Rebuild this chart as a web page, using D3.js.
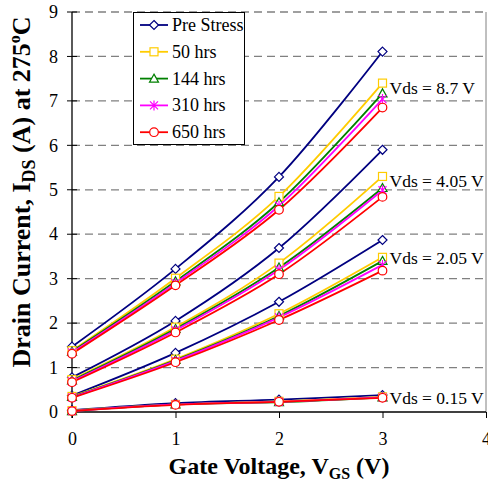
<!DOCTYPE html>
<html>
<head>
<meta charset="utf-8">
<script src="https://cdn.jsdelivr.net/npm/d3@7"></script>
<style>
  body { margin: 0; background: #fff; }
  svg text { font-family: "Liberation Serif", "Times New Roman", serif; }
</style>
</head>
<body>
<div id="chart"></div>
<script>
// gate voltage points
var vgs = [0, 1, 2, 3];
var conditions = ["Pre Stress", "50 hrs", "144 hrs", "310 hrs", "650 hrs"];
var vdsLabels = ["Vds = 8.7 V", "Vds = 4.05 V", "Vds = 2.05 V", "Vds = 0.15 V"];

// drain current (A), one row per condition
var ids87 = [
    [1.47, 3.22, 5.29, 8.11],
    [1.38, 3.01, 4.85, 7.40],
    [1.36, 2.94, 4.72, 7.17],
    [1.34, 2.90, 4.64, 7.04],
    [1.31, 2.85, 4.55, 6.85]
];
var ids405 = [
    [0.78, 2.05, 3.69, 5.90],
    [0.73, 1.91, 3.35, 5.30],
    [0.71, 1.87, 3.25, 5.04],
    [0.69, 1.84, 3.20, 4.99],
    [0.67, 1.79, 3.10, 4.84]
];
var ids205 = [
    [0.37, 1.33, 2.48, 3.87],
    [0.35, 1.19, 2.21, 3.48],
    [0.34, 1.17, 2.16, 3.40],
    [0.33, 1.15, 2.13, 3.31],
    [0.32, 1.12, 2.07, 3.18]
];
var ids015 = [
    [0.04, 0.20, 0.28, 0.38],
    [0.03, 0.17, 0.24, 0.34],
    [0.02, 0.17, 0.22, 0.33],
    [0.02, 0.17, 0.23, 0.33],
    [0.02, 0.16, 0.23, 0.32]
];
var yTicks = [0, 1, 2, 3, 4, 5, 6, 7, 8, 9];
var xTicks = [0, 1, 2, 3, 4];

var colors = ["#000080", "#FFCC00", "#008000", "#FF00FF", "#FF0000"];
var symbols = ["diamond", "square", "triangle", "star", "circle"];

var width = 488, height = 483;
var serif = "Liberation Serif";
var x = d3.scaleLinear().domain([0, 4]).range([72, 486]);
var y = d3.scaleLinear().domain([0, 9]).range([412, 12]);

var svg = d3.select("#chart").append("svg")
    .attr("width", width)
    .attr("height", height)
    .attr("font-family", serif);

svg.append("rect").attr("width", width).attr("height", height).attr("fill", "#fff");

// gridlines
svg.append("g").selectAll("line")
    .data(yTicks.slice(1))
    .enter().append("line")
    .attr("x1", x(0)).attr("x2", x(4))
    .attr("y1", function(d) { return y(d); })
    .attr("y2", function(d) { return y(d); })
    .attr("stroke", "#808080")
    .attr("stroke-width", 1.3)
    .attr("stroke-dasharray", "8,5");

// right border
svg.append("line")
    .attr("x1", x(4)).attr("x2", x(4))
    .attr("y1", y(9)).attr("y2", y(0))
    .attr("stroke", "#808080");

// axes
var yAxis = d3.axisLeft(y).tickValues(yTicks).tickFormat(d3.format("d")).tickSize(0).tickPadding(14);
var gy = svg.append("g").attr("transform", "translate(" + x(0) + ",0)").call(yAxis)
    .attr("font-family", serif).attr("font-size", 18);
gy.select(".domain").remove();
gy.selectAll("text").attr("fill", "#000");

var xAxis = d3.axisBottom(x).tickValues(xTicks).tickFormat(d3.format("d")).tickSize(6).tickPadding(14);
var gx = svg.append("g").attr("transform", "translate(0," + y(0) + ")").call(xAxis)
    .attr("font-family", serif).attr("font-size", 18);
gx.select(".domain").remove();
gx.selectAll("line").attr("stroke", "#000");
gx.selectAll("text").attr("fill", "#000");

// y tick marks crossing axis
svg.append("g").selectAll("line")
    .data(yTicks)
    .enter().append("line")
    .attr("x1", x(0) - 5).attr("x2", x(0) + 5)
    .attr("y1", function(d) { return y(d); })
    .attr("y2", function(d) { return y(d); })
    .attr("stroke", "#000");

svg.append("line")
    .attr("x1", x(0)).attr("x2", x(0))
    .attr("y1", y(9)).attr("y2", y(0) + 6)
    .attr("stroke", "#000").attr("stroke-width", 1.3);
svg.append("line")
    .attr("x1", x(0)).attr("x2", x(4))
    .attr("y1", y(0)).attr("y2", y(0))
    .attr("stroke", "#000").attr("stroke-width", 1.3);

var line = d3.line()
    .x(function(d) { return x(d[0]); })
    .y(function(d) { return y(d[1]); })
    .curve(d3.curveCardinal.tension(0));

function drawMarker(g, kind, color) {
    if (kind == "diamond") {
        g.append("path").attr("d", "M0,-4.5L4.5,0L0,4.5L-4.5,0Z")
            .attr("fill", "#fff").attr("stroke", color).attr("stroke-width", 1.2);
    } else if (kind == "square") {
        g.append("rect").attr("x", -4).attr("y", -4).attr("width", 8).attr("height", 8)
            .attr("fill", "#fff").attr("stroke", color).attr("stroke-width", 1.2);
    } else if (kind == "triangle") {
        g.append("path").attr("d", "M0,-4.5L4.5,3.5L-4.5,3.5Z")
            .attr("fill", "#fff").attr("stroke", color).attr("stroke-width", 1.2);
    } else if (kind == "star") {
        g.append("path").attr("d", "M-4,-4L4,4M-4,4L4,-4M0,-5L0,5")
            .attr("fill", "none").attr("stroke", color).attr("stroke-width", 1.2);
    } else {
        g.append("circle").attr("r", 4.3)
            .attr("fill", "#fff").attr("stroke", color).attr("stroke-width", 1.2);
    }
}

var groups = [ids87, ids405, ids205, ids015];
var plot = svg.append("g");

conditions.forEach(function(c, ci) {
    groups.forEach(function(grp) {
        var pts = vgs.map(function(v, i) { return [v, grp[ci][i]]; });
        plot.append("path")
            .attr("d", line(pts))
            .attr("fill", "none")
            .attr("stroke", colors[ci])
            .attr("stroke-width", 1.8);
    });
});
conditions.forEach(function(c, ci) {
    groups.forEach(function(grp) {
        vgs.forEach(function(v, i) {
            var m = plot.append("g")
                .attr("transform", "translate(" + x(v) + "," + y(grp[ci][i]) + ")");
            drawMarker(m, symbols[ci], colors[ci]);
        });
    });
});

// Vds annotations next to 50 hrs point at Vgs = 3
var labelY = [94, 187, 264, 404];
svg.append("g").selectAll("text")
    .data(vdsLabels)
    .enter().append("text")
    .attr("x", x(3) + 7)
    .attr("y", function(d, i) { return labelY[i]; })
    .attr("font-size", 17.5)
    .text(function(d) { return d; });

// legend
var legend = svg.append("g");
legend.append("rect")
    .attr("x", 133.5).attr("y", 12.5).attr("width", 111).attr("height", 132)
    .attr("fill", "#fff").attr("stroke", "#000");
conditions.forEach(function(c, i) {
    var ly = 25 + i * 26.8;
    legend.append("line")
        .attr("x1", 140).attr("x2", 168)
        .attr("y1", ly).attr("y2", ly)
        .attr("stroke", colors[i]).attr("stroke-width", 1.8);
    var m = legend.append("g").attr("transform", "translate(154," + ly + ")");
    drawMarker(m, symbols[i], colors[i]);
    legend.append("text")
        .attr("x", 172).attr("y", ly + 6)
        .attr("font-size", 18)
        .text(c);
});

// axis titles
var xt = svg.append("text")
    .attr("x", 279).attr("y", 474)
    .attr("text-anchor", "middle")
    .attr("font-size", 24).attr("font-weight", "bold");
xt.append("tspan").text("Gate Voltage, V");
xt.append("tspan").attr("font-size", 16).attr("dy", 5).text("GS");
xt.append("tspan").attr("dy", -5).text(" (V)");

var yt = svg.append("text")
    .attr("transform", "translate(30,192) rotate(-90)")
    .attr("text-anchor", "middle")
    .attr("font-size", 26).attr("font-weight", "bold");
yt.append("tspan").text("Drain Current, I");
yt.append("tspan").attr("font-size", 18).attr("dy", 5).text("DS");
yt.append("tspan").attr("dy", -5).text(" (A) at 275");
yt.append("tspan").attr("font-size", 16).attr("dy", -10).text("o");
yt.append("tspan").attr("dy", 10).text("C");
</script>
</body>
</html>
